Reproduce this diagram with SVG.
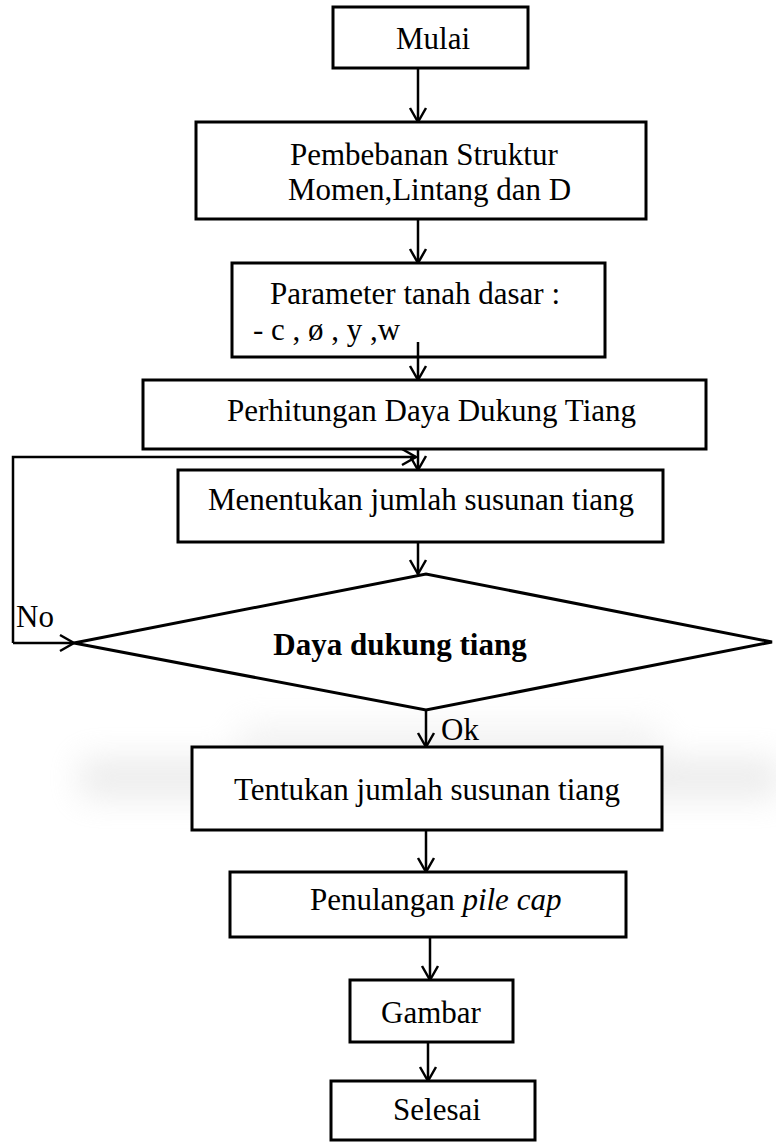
<svg xmlns="http://www.w3.org/2000/svg" width="776" height="1144" viewBox="0 0 776 1144">
  <defs>
    <marker id="arrow" markerUnits="userSpaceOnUse" markerWidth="20" markerHeight="20" viewBox="-16 -10 18 20" refX="0" refY="0" orient="auto">
      <path d="M-14,-8 L0,0 L-14,8" fill="none" stroke="#000" stroke-width="2.5"/>
    </marker>
    <filter id="haze" x="-20%" y="-80%" width="140%" height="260%">
      <feGaussianBlur stdDeviation="16"/>
    </filter>
  </defs>
  <style>
    .box { fill: #fff; stroke: #000; stroke-width: 3; }
    .lbl { font-family: "Liberation Serif", "Times New Roman", serif; font-size: 31px; fill: #000; }
    .mid { text-anchor: middle; }
    .wire { fill: none; stroke: #000; stroke-width: 2.5; }
  </style>
  <rect width="776" height="1144" fill="#fff"/>

  <!-- soft grey smear behind the "Tentukan" step -->
  <g id="smear" filter="url(#haze)" opacity="0.4">
    <rect x="80" y="758" width="700" height="40" fill="#d0d0d0"/>
    <rect x="240" y="725" width="420" height="30" fill="#e0e0e0"/>
  </g>

  <g id="connectors">
    <path class="wire" d="M418,68 V122" marker-end="url(#arrow)"/>
    <path class="wire" d="M418,219 V263" marker-end="url(#arrow)"/>
    <path class="wire" d="M418,342 V380" marker-end="url(#arrow)"/>
    <path class="wire" d="M418,449 V470" marker-end="url(#arrow)"/>
    <path class="wire" d="M13,643 V457 H416" marker-end="url(#arrow)"/>
    <path class="wire" d="M418,542 V574" marker-end="url(#arrow)"/>
    <path class="wire" d="M13,643 H74" marker-end="url(#arrow)"/>
    <path class="wire" d="M426,710 V747" marker-end="url(#arrow)"/>
    <path class="wire" d="M426,830 V872" marker-end="url(#arrow)"/>
    <path class="wire" d="M430,937 V980" marker-end="url(#arrow)"/>
    <path class="wire" d="M428,1042 V1081" marker-end="url(#arrow)"/>
    <text class="lbl" x="16" y="627" font-size="28">No</text>
    <text class="lbl" x="441" y="740" font-size="29">Ok</text>
  </g>

  <g id="mulai">
    <rect class="box" x="333" y="7" width="195" height="61"/>
    <text class="lbl mid" x="433" y="49">Mulai</text>
  </g>

  <g id="pembebanan">
    <rect class="box" x="196" y="122" width="450" height="97"/>
    <text class="lbl" x="290" y="165">Pembebanan Struktur</text>
    <text class="lbl" x="288" y="200">Momen,Lintang dan D</text>
  </g>

  <g id="parameter">
    <rect class="box" x="232" y="263" width="373" height="94"/>
    <text class="lbl" x="270" y="304">Parameter tanah dasar :</text>
    <text class="lbl" x="253" y="340">- c , ø , y ,w</text>
  </g>
  <!-- the feed line starts inside the parameter box -->
  <path class="wire" d="M418,342 V357"/>

  <g id="perhitungan">
    <rect class="box" x="143" y="380" width="563" height="69"/>
    <text class="lbl" x="227" y="421">Perhitungan Daya Dukung Tiang</text>
  </g>

  <g id="menentukan">
    <rect class="box" x="178" y="470" width="485" height="72"/>
    <text class="lbl mid" x="421" y="510">Menentukan jumlah susunan tiang</text>
  </g>

  <g id="keputusan">
    <polygon class="box" points="74,643 426,574 772,642 426,710"/>
    <text class="lbl mid" x="400" y="655" font-weight="bold">Daya dukung tiang</text>
  </g>

  <g id="tentukan">
    <rect class="box" x="192" y="747" width="470" height="83"/>
    <text class="lbl mid" x="427" y="800">Tentukan jumlah susunan tiang</text>
  </g>

  <g id="penulangan">
    <rect class="box" x="230" y="872" width="396" height="65"/>
    <text class="lbl" x="310" y="910">Penulangan <tspan font-style="italic">pile cap</tspan></text>
  </g>

  <g id="gambar">
    <rect class="box" x="350" y="980" width="163" height="62"/>
    <text class="lbl mid" x="431" y="1023">Gambar</text>
  </g>

  <g id="selesai">
    <rect class="box" x="331" y="1081" width="204" height="59"/>
    <text class="lbl mid" x="437" y="1120">Selesai</text>
  </g>
</svg>
